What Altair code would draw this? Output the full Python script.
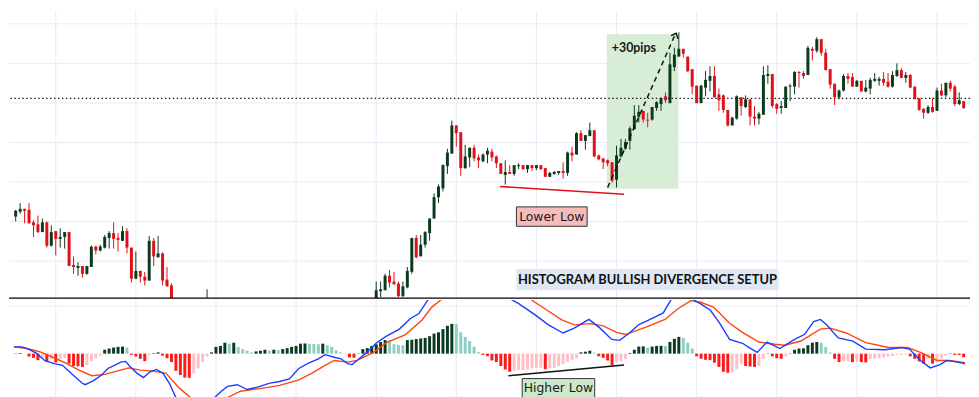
import altair as alt
import pandas as pd

# ---------------- data (price in chart units, index = bar number) ----------------
candle_idx = list(range(0, 36)) + [43] + list(range(81, 214))

opens = [88, 93, 96, 95, 82, 80, 72, 82, 58, 73, 65, 67, 72, 38, 35, 37, 29, 36, 57, 53,
         56, 66, 71, 66, 63, 73, 56, 24, 32, 26, 22, 63, 46, 50, 23, 17,
         -15,
         3, 11, 12, 27, 21, 19, 6, 15, 31, 66, 47, 59, 71, 86, 108, 117, 140, 153, 182, 175,
         138, 149, 159, 149, 145, 152, 155, 150, 143, 131, 134, 132, 140, 141, 137, 141, 138, 141, 138, 129,
         132, 133, 135, 133, 154, 152, 174, 166, 171, 177, 151, 148, 146, 144, 126, 150, 158, 166, 178, 191,
         197, 188, 188, 200, 204, 212, 205, 242, 253, 261, 253, 240, 223, 205, 221, 228, 233, 214, 213, 198,
         182, 189, 211, 201, 209, 191, 189, 193, 233, 235, 204, 200, 200, 222, 222, 237, 236, 234, 261, 259,
         271, 257, 240, 225, 211, 218, 233, 232, 222, 228, 217, 220, 228, 228, 230, 227, 222, 233, 239, 231,
         234, 222, 210, 199, 195, 201, 197, 218, 213, 226, 222, 204, 207]
highs = [95, 102, 96, 102, 84, 89, 86, 83, 79, 73, 76, 72, 72, 47, 41, 37, 37, 58, 58, 59,
         69, 73, 82, 71, 78, 76, 56, 52, 32, 31, 68, 66, 68, 51, 36, 19,
         13,
         21, 21, 29, 33, 31, 21, 21, 36, 66, 69, 69, 73, 86, 112, 121, 142, 158, 187, 182, 175,
         162, 159, 162, 152, 153, 159, 158, 151, 143, 146, 141, 141, 143, 141, 141, 141, 141, 141, 138, 134,
         135, 135, 144, 155, 160, 175, 177, 172, 185, 177, 152, 148, 147, 144, 161, 168, 168, 181, 203, 203,
         197, 195, 201, 207, 211, 216, 257, 262, 278, 261, 253, 240, 223, 224, 238, 243, 243, 220, 214, 198,
         191, 213, 211, 213, 209, 202, 196, 243, 244, 235, 205, 207, 222, 225, 238, 238, 238, 264, 263, 273,
         271, 261, 240, 225, 219, 235, 236, 236, 229, 228, 229, 231, 236, 232, 237, 236, 238, 246, 241, 237,
         235, 222, 210, 200, 203, 210, 221, 225, 226, 228, 224, 216, 207]
lows = [83, 91, 81, 81, 67, 71, 72, 56, 57, 48, 56, 55, 37, 29, 27, 25, 28, 36, 49, 52,
        55, 55, 55, 52, 63, 50, 20, 24, 20, 17, 22, 37, 46, 17, 16, -20,
        -20,
        0, 5, 12, 15, 18, 5, 5, 14, 29, 45, 47, 56, 63, 86, 102, 114, 132, 153, 160, 130,
        137, 139, 145, 138, 144, 143, 145, 138, 132, 121, 132, 130, 137, 136, 133, 135, 136, 136, 129, 129,
        131, 131, 127, 130, 145, 152, 166, 157, 171, 149, 146, 137, 140, 123, 118, 149, 157, 157, 178, 185,
        185, 180, 187, 197, 197, 205, 205, 238, 253, 252, 237, 214, 205, 205, 212, 217, 211, 197, 195, 181,
        182, 188, 192, 200, 182, 182, 183, 193, 225, 200, 194, 194, 200, 207, 214, 221, 230, 234, 249, 257,
        254, 239, 220, 203, 209, 217, 225, 222, 222, 217, 216, 214, 227, 223, 223, 221, 221, 232, 231, 226,
        221, 209, 197, 189, 194, 195, 197, 212, 211, 217, 202, 203, 199]
closes = [94, 96, 94, 81, 79, 72, 82, 58, 72, 65, 67, 72, 37, 36, 37, 29, 37, 57, 53, 57,
          67, 71, 65, 64, 73, 56, 24, 32, 26, 22, 63, 47, 50, 22, 16, -10,
          -2,
          12, 13, 27, 20, 18, 6, 16, 32, 66, 46, 59, 72, 86, 108, 119, 141, 154, 182, 174, 138,
          150, 159, 148, 146, 152, 156, 149, 143, 132, 134, 132, 141, 141, 137, 141, 138, 141, 137, 129, 133,
          134, 135, 133, 154, 151, 174, 166, 172, 177, 150, 147, 144, 143, 125, 151, 159, 165, 179, 192, 196,
          188, 187, 201, 206, 210, 208, 245, 255, 261, 256, 238, 222, 205, 223, 229, 233, 211, 208, 198, 182,
          190, 212, 202, 209, 191, 189, 194, 234, 235, 202, 199, 202, 222, 223, 237, 236, 233, 262, 259, 271,
          257, 239, 224, 211, 218, 233, 230, 222, 228, 217, 221, 229, 230, 230, 226, 222, 234, 239, 231, 234,
          221, 209, 198, 195, 201, 196, 218, 213, 226, 220, 204, 208, 200]

hist_vals = [0.3, 0.6, 0.2, -3, -4.3, -6.7, -4, -8.7, -5.5, -9,
             -5.5, -4.5, -10.3, -12.7, -13, -13.7, -12, -8, -4.7, -2,
             4, 5.3, 6.3, 7, 7.3, 6.3, -1.3, -3, -5.3, -7.7,
             -1.7, 0.5, 1.3, -2, -4.7, -8.7, -17.7, -22, -24.7, -25,
             -20.3, -15.3, -8.7, -3, 1.3, 7, 8, 11.3, 10.3, 11.3,
             7, 4.7, 3, 1.3, 2.3, 3, 4, 3, 4, 3.7,
             4.7, 5.7, 7, 8, 10.3, 10.5, 10.2, 10, 9.7, 10.3,
             8.7, 7, 3.5, 1.3, 0.3, -4, -4.2, 0.3, 4.7, 5.7,
             8, 9.7, 12, 14, 13.5, 9.7, 9, 8.7, 14, 14.3,
             15, 15.7, 16.3, 18, 20.7, 22, 25.3, 28.7, 30.7, 30.5,
             22, 17.3, 13, 7.3, 1.5, -1.3, -2.7, -7, -8.7, -12.7,
             -16.3, -18.7, -17.7, -17, -16.8, -16.3, -15.3, -14.7, -14.5, -16,
             -14.7, -14.5, -12.7, -10.7, -8.7, -6.7, -4.7, 1.3, 2, 3,
             1, -2.7, -4.3, -7, -12, -8.7, -8, -5.3, 0.7, 4,
             7.3, 7.5, 6.3, 7.3, 8, 8.1, 7.9, 12, 15.3, 17.3,
             16.3, 11.3, 5.3, -2.7, -5.3, -6.3, -6.7, -9.3, -13.7, -18.7,
             -19.7, -19.3, -16, -11, -12.7, -13.3, -13.7, -12.7, -5.3, 0.3,
             -2.7, -4.7, -5.3, -2.7, 0.3, 4, 5.3, 5.5, 8.7, 11.3,
             12, 11.3, 7, 1.3, -5.3, -8.7, -8, -7.7, -8.7, -8,
             -8.7, -9, -5.3, -5.2, -4.7, -4, -3, -2.3, -1.3, -1.2,
             -0.7, -2.7, -5.3, -8, -10.3, -5.3, -10.3, -8.7, -5.3, -2,
             0.3, -1.3, -1.4, -3.7]

macd_points = [(-0.4, 7), (1.4, 7), (2.9, 4.7), (4.7, 0.3), (6.5, -7), (8.7, -10.3), (10.5, -12),
               (12.7, -21.3), (14.9, -30.3), (15.6, -32), (17.4, -28), (19.3, -22), (20.7, -15.3),
               (22.2, -12), (23.6, -8.7), (24.7, -8), (25.8, -13.7), (27.3, -20.3), (28.7, -24.7),
               (30.2, -18.7), (31.6, -16.3), (33.1, -20.3), (34.5, -30.3), (36.0, -45.3), (39.0, -58),
               (42.0, -55), (44.7, -45.3), (46.2, -38.7), (47.6, -33.7), (49.8, -32), (52.0, -37),
               (54.2, -34.7), (57.1, -30.3), (59.3, -28.7), (61.5, -26), (63.6, -15.3), (65.8, -9.7),
               (68.0, -5.3), (69.5, -1), (71.6, -3.7), (73.1, -5.3), (74.6, -10.3), (75.6, -11.3),
               (76.7, -7), (78.9, 1.3), (81.1, 11.3), (83.3, 18), (86.2, 25.3), (88.7, 36.3),
               (90.6, 41.3), (92.7, 56), (96.0, 70), (100.0, 78), (105.0, 74), (109.0, 64),
               (111.3, 56), (113.1, 51.3), (116.8, 39.7), (119.7, 29.7), (123.0, 21.3), (125.5, 26.3),
               (128.8, 35.3), (131.3, 26.3), (133.9, 14.7), (135.7, 13.7), (137.9, 21.3), (140.0, 30),
               (141.5, 33), (143.7, 38), (145.5, 42), (147.3, 56), (149.5, 64), (152.1, 56),
               (153.9, 51.3), (156.1, 44.7), (158.2, 31.3), (160.4, 14.7), (163.3, 10.7), (164.8, 6.3),
               (166.6, 1.3), (168.8, 12), (171.7, 5.3), (175.0, 14.7), (177.2, 19.7), (179.3, 33),
               (180.8, 35.3), (182.2, 29.7), (184.8, 16.3), (188.1, 13), (191.0, 4.7), (195.3, 4),
               (199.0, 6.3), (200.8, 4.7), (203.3, -7), (205.5, -14.7), (207.7, -11.3), (209.2, -7),
               (210.6, -8), (213.3, -10.3)]

signal_points = [(-0.4, 7), (2.5, 5.3), (5.4, 2), (8.3, -3.7), (11.3, -9.7), (14.2, -17), (17.1, -22.7),
                 (20.0, -21.3), (22.9, -17.7), (25.4, -14.7), (28.0, -17), (30.9, -18), (33.8, -20.3),
                 (36.7, -35.3), (39.3, -45.3), (43.0, -52), (47.6, -45.3), (50.5, -38.7), (54.9, -36),
                 (59.3, -32.7), (63.6, -27), (66.5, -20.3), (69.5, -12), (71.6, -7), (74.6, -8.7),
                 (76.7, -7), (80.4, 1.3), (83.3, 11.3), (87.6, 19.7), (91.3, 34.7), (93.5, 48),
                 (95.7, 56), (100.0, 64), (105.0, 67), (110.0, 63), (115.7, 56), (118.9, 46.3),
                 (122.6, 35), (125.5, 29.7), (129.1, 31), (132.0, 28.7), (135.0, 22), (137.1, 19.7),
                 (140.0, 24.7), (141.5, 27), (145.9, 35.3), (148.8, 46.3), (151.7, 54.7), (153.9, 53),
                 (156.8, 48), (160.4, 31.3), (163.3, 22), (167.0, 12), (170.6, 9.7), (172.8, 8.7),
                 (176.4, 13), (180.8, 25.3), (183.0, 26.3), (186.6, 21.3), (191.0, 11.3), (196.1, 6.3),
                 (200.4, 6.3), (203.3, 1.3), (207.0, -7), (209.9, -7), (213.3, -9.3)]

grid_idx = [9, 27, 45, 63, 81, 99, 117, 135, 153, 171, 189, 207]
price_grid = [42, 82.8, 123.6, 164.4, 205.2, 246, 286.8]
macd_grid = [49]
level_price = [210]

# annotations (data coordinates)
zone = {"x0": 132.8, "x1": 148.9, "y0": 116.7, "y1": 276}
lower_low = {"x0": 108.8, "x1": 136.7, "y0": 119, "y1": 111}
move_arrow = {"x0": 133.0, "y0": 118, "x1": 148.0, "y1": 274, "tx": 148.4, "ty": 277}
pips_label = {"x": 138.9, "y": 262, "text": "+30pips"}
ll_box = {"x0": 112.5, "x1": 128.4, "y0": 78, "y1": 98, "text": "Lower Low"}
title_box = {"x0": 112.5, "x1": 171.4, "y0": 12, "y1": 34, "text": "HISTOGRAM BULLISH DIVERGENCE SETUP"}
higher_low = {"x0": 110.7, "x1": 136.7, "y0": -22.7, "y1": -11.7}
hl_box = {"x0": 113.8, "x1": 130.1, "y0": -45.7, "y1": -25.7, "text": "Higher Low"}

# ---------------- build ----------------
W, HT, HB = 971, 290, 99
GRID = "#e8eaf6"
GREEN = "#0b3a1e"
RED = "#e0101a"
HIST_COLORS = {"pos_up": GREEN, "pos_down": "#8dcfc5", "neg_down": "#ff1a1a", "neg_up": "#ffbfc7"}

xs = alt.Scale(domain=[-0.393, 213.31], nice=False, zero=False)
ys_top = alt.Scale(domain=[4, 300], nice=False, zero=False)
ys_bot = alt.Scale(domain=[-45.7, 55.3], nice=False, zero=False)

cdf = pd.DataFrame({"i": candle_idx, "o": opens, "h": highs, "l": lows, "c": closes})
cdf["col"] = [GREEN if c >= o else RED for o, c in zip(cdf.o, cdf.c)]

kinds = []
prev = 0.0
for v in hist_vals:
    if v >= 0:
        kinds.append("pos_up" if v >= prev else "pos_down")
    else:
        kinds.append("neg_down" if v <= prev else "neg_up")
    prev = v
hdf = pd.DataFrame({"i": list(range(len(hist_vals))), "h": hist_vals, "z": 0})
hdf["col"] = [HIST_COLORS[k] for k in kinds]
mdf = pd.DataFrame(macd_points, columns=["i", "v"])
sdf = pd.DataFrame(signal_points, columns=["i", "v"])


def X(f):
    return alt.X(f, type="quantitative", scale=xs, axis=None)


def YT(f):
    return alt.Y(f, type="quantitative", scale=ys_top, axis=None)


def YB(f):
    return alt.Y(f, type="quantitative", scale=ys_bot, axis=None)


def one(d):
    return alt.Chart(pd.DataFrame([d]))


def centered_text(d, yscale, **kw):
    return one(d).mark_text(align="center", baseline="middle", **kw).encode(
        x=alt.X("mx:Q", scale=xs, axis=None), y=alt.Y("my:Q", scale=yscale, axis=None), text="text:N"
    ).transform_calculate(mx="(datum.x0 + datum.x1) / 2", my="(datum.y0 + datum.y1) / 2")


vgrid = alt.Chart(pd.DataFrame({"i": grid_idx})).mark_rule(color=GRID, strokeWidth=1).encode(x=X("i"))
hgrid_top = alt.Chart(pd.DataFrame({"p": price_grid})).mark_rule(color=GRID, strokeWidth=1).encode(y=YT("p"))
zone_rect = one(zone).mark_rect(color="#d3ebd1", opacity=0.9).encode(x=X("x0"), x2="x1", y=YT("y0"), y2="y1")
level = alt.Chart(pd.DataFrame({"p": level_price})).mark_rule(
    color="#1a1a1a", strokeDash=[1.5, 2.5], strokeWidth=1.3).encode(y=YT("p"))
wicks = alt.Chart(cdf).mark_rule(strokeWidth=1, clip=True).encode(
    x=X("i"), y=YT("l"), y2="h", color=alt.Color("col:N", scale=None))
bodies = alt.Chart(cdf).mark_bar(size=3, clip=True).encode(
    x=X("i"), y=YT("o"), y2="c", color=alt.Color("col:N", scale=None))
ll_line = one(lower_low).mark_rule(color="#e3101c", strokeWidth=1.6).encode(
    x=X("x0"), x2="x1", y=YT("y0"), y2="y1")
arrow_line = one(move_arrow).mark_rule(color="#111111", strokeDash=[5, 4], strokeWidth=1.5).encode(
    x=X("x0"), x2="x1", y=YT("y0"), y2="y1")
arrow_head = one(move_arrow).mark_point(
    shape="M-0.8,0.9L0,0L0.8,0.9", filled=False, size=90, angle=23, color="#111111",
    strokeWidth=1.4, opacity=1).encode(x=X("tx"), y=YT("ty"))
pips = one(pips_label).mark_text(font="Lato", fontSize=12.5, fontWeight="bold", color="#1a1a1a",
                                 align="center", baseline="middle").encode(x=X("x"), y=YT("y"), text="text:N")
ll_rect = one(ll_box).mark_rect(fill="#f6bcbc", stroke="#333333", strokeWidth=1).encode(
    x=X("x0"), x2="x1", y=YT("y0"), y2="y1")
ll_text = centered_text(ll_box, ys_top, font="DejaVu Sans", fontSize=12.5, color="#1a1a1a")
t_rect = one(title_box).mark_rect(fill="#dde8f4").encode(x=X("x0"), x2="x1", y=YT("y0"), y2="y1")
t_text = centered_text(title_box, ys_top, font="Lato", fontSize=13, fontWeight="bold", color="#111111")
sep = alt.Chart(pd.DataFrame({"p": [4]})).mark_rule(color="#000000", strokeWidth=1.3).encode(y=YT("p"))

top = alt.layer(vgrid, hgrid_top, zone_rect, level, wicks, bodies, ll_line, arrow_line, arrow_head,
                pips, ll_rect, ll_text, t_rect, t_text, sep).properties(width=W, height=HT)

hgrid_bot = alt.Chart(pd.DataFrame({"p": macd_grid})).mark_rule(color=GRID, strokeWidth=1).encode(y=YB("p"))
bars = alt.Chart(hdf).mark_bar(size=3, clip=True).encode(
    x=X("i"), y=YB("h"), y2="z", color=alt.Color("col:N", scale=None))
sig_line = alt.Chart(sdf).mark_line(color="#ff4510", strokeWidth=1.4, clip=True).encode(x=X("i"), y=YB("v"))
macd_line = alt.Chart(mdf).mark_line(color="#1a3cff", strokeWidth=1.4, clip=True).encode(x=X("i"), y=YB("v"))
hl_line = one(higher_low).mark_rule(color="#111111", strokeWidth=1.6).encode(
    x=X("x0"), x2="x1", y=YB("y0"), y2="y1")
hl_rect = one(hl_box).mark_rect(fill="#cde7cb", stroke="#333333", strokeWidth=1).encode(
    x=X("x0"), x2="x1", y=YB("y0"), y2="y1")
hl_text = centered_text(hl_box, ys_bot, font="DejaVu Sans", fontSize=12.5, color="#1a1a1a")

bottom = alt.layer(vgrid, hgrid_bot, bars, sig_line, macd_line, hl_line, hl_rect, hl_text).properties(
    width=W, height=HB)

chart = alt.vconcat(top, bottom, spacing=0).properties(padding=0, background="white").configure_view(
    strokeWidth=0)

chart.save("out.html", embed_options={"renderer": "svg", "actions": False})
